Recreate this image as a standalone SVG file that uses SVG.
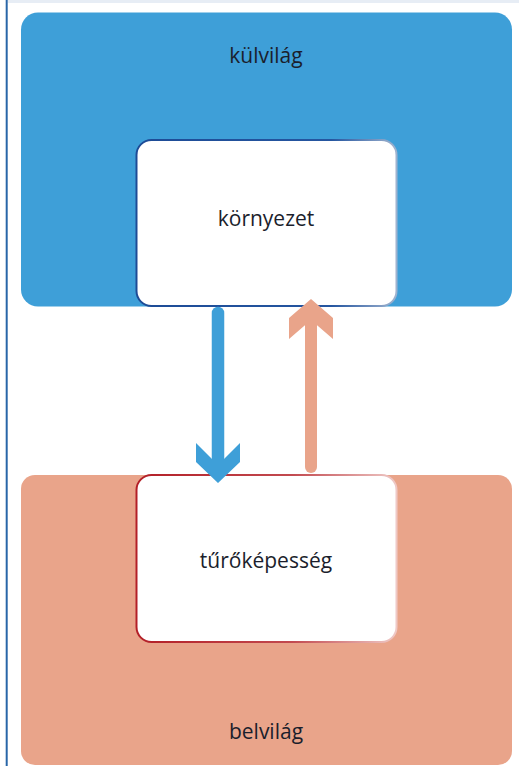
<svg xmlns="http://www.w3.org/2000/svg" width="519" height="766" viewBox="0 0 519 766">
<style>
.lbl{font-family:"Open Sans","Liberation Sans",sans-serif;font-size:21px;fill:#1b1e2c;text-anchor:middle}
</style>
<defs>
<linearGradient id="gBlue" x1="0" y1="0" x2="1" y2="0">
<stop offset="0" stop-color="#1d4b96"/><stop offset="0.75" stop-color="#2556a0"/><stop offset="1" stop-color="#9fb3cf"/>
</linearGradient>
<linearGradient id="gRed" x1="0" y1="0" x2="1" y2="0">
<stop offset="0" stop-color="#b31f27"/><stop offset="0.6" stop-color="#c24a50"/><stop offset="1" stop-color="#efc9c6"/>
</linearGradient>
</defs>
<rect x="0" y="0" width="519" height="766" fill="#ffffff"/>
<line x1="8" y1="1.5" x2="519" y2="1.5" stroke="#e7edf5" stroke-width="3"/>
<line x1="6.7" y1="0" x2="6.7" y2="766" stroke="#2966a8" stroke-width="2"/>
<g id="kulvilag">
<rect x="21" y="12.5" width="491" height="294" rx="17" fill="#3e9fd8"/>
<text class="lbl" x="266" y="63">külvilág</text>
</g>
<g id="belvilag">
<rect x="21" y="475" width="491" height="290" rx="14" fill="#e9a48a"/>
<text class="lbl" x="266" y="739">belvilág</text>
</g>
<g id="kornyezet">
<rect x="136.5" y="140" width="260" height="166" rx="15" fill="#ffffff" stroke="url(#gBlue)" stroke-width="2"/>
<text class="lbl" x="266" y="226">környezet</text>
</g>
<g id="turokepesseg">
<rect x="136.5" y="475" width="260" height="167" rx="15" fill="#ffffff" stroke="url(#gRed)" stroke-width="2"/>
<text class="lbl" x="266" y="568">tűrőképesség</text>
</g>
<g id="connectors">
<line x1="218" y1="313" x2="218" y2="462" stroke="#3e9fd8" stroke-width="12.5" stroke-linecap="round"/>
<polygon points="196,443 218,465 240,443 240,462 218,483 196,462" fill="#3e9fd8"/>
<line x1="311" y1="318" x2="311" y2="467" stroke="#e9a48a" stroke-width="12" stroke-linecap="round"/>
<polygon points="289,318 311,299 333,318 333,339 311,320 289,339" fill="#e9a48a"/>
</g>
</svg>
